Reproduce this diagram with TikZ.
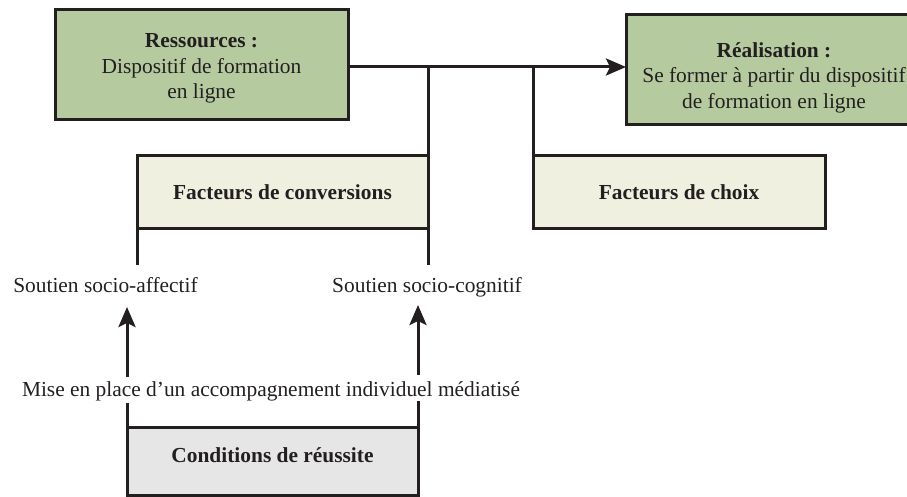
\documentclass[tikz,border=0pt]{standalone}
\usepackage{fontspec}
\setmainfont{Liberation Serif}
\usetikzlibrary{arrows.meta}

\definecolor{resgreen}{RGB}{181,203,159}
\definecolor{factcream}{RGB}{240,240,224}
\definecolor{condgray}{RGB}{230,230,230}
\definecolor{ink}{RGB}{35,31,32}

% vertical struts used to nudge text inside the boxes
\newcommand\topgap[1]{\rule{0pt}{#1}}
\newcommand\bottomgap[1]{\rule[-#1]{0pt}{#1}}

\begin{document}
\begin{tikzpicture}[x=1pt,y=-1pt,
  txt/.style={inner sep=0pt, text=ink, font=\fontsize{21.4}{25.5}\selectfont},
  box/.style={txt, draw=ink, line width=3pt, outer sep=0pt, align=center},
  greenbox/.style={box, fill=resgreen, minimum height=110pt},
  factbox/.style={box, fill=factcream, minimum height=72pt,
    font=\fontsize{21.4}{25.5}\selectfont\bfseries},
  condbox/.style={box, fill=condgray, minimum width=291pt, minimum height=68pt,
    font=\fontsize{21.4}{25.5}\selectfont\bfseries},
  conn/.style={draw=ink, line width=3pt},
  arr/.style={conn, -{Stealth[length=20pt,width=17pt,inset=4pt]}}
]
\useasboundingbox (0,0) rectangle (907,497);
\clip (0,0) rectangle (907,497);

% boxes
\node[greenbox, minimum width=293pt] (res) at (201.5,65)
  {\topgap{21.6pt}\textbf{Ressources :}\\Dispositif de formation\\en ligne};
\node[greenbox, minimum width=296pt] (real) at (774,70)
  {\topgap{29.8pt}\textbf{Réalisation :}\\Se former à partir du dispositif\\de formation en ligne};
\node[factbox, minimum width=291pt] (conv) at (282.5,192) {Facteurs de conversions};
\node[factbox, minimum width=292pt] (choix) at (679,192) {Facteurs de choix};
\node[condbox] (cond) at (272.5,461.5) {\bottomgap{12pt}Conditions de réussite};

% free labels (both sit on the same baseline)
\node[txt] (sa) at (105.5,284.7) {Soutien socio-affectif};
\node[txt] (sc) at (427,287) {Soutien socio-cognitif};
\node[txt] (mise) at (271,391) {Mise en place d’un accompagnement individuel médiatisé};

% junctions and free ends
\coordinate (j1) at (428,67);
\coordinate (j2) at (533,67);
\coordinate (cl) at (137,265);
\coordinate (cr) at (428,265);
\coordinate (dl) at (127,403);
\coordinate (dr) at (418,401);
\coordinate (upL) at (127,377);
\coordinate (tipL) at (127,307);
\coordinate (upR) at (418,375);
\coordinate (tipR) at (418,305);

% main line from resources to realisation
\draw[arr] (res.east |- j1) -- (real.west |- j1);
\draw[conn] (j1) -- (conv.north east);
\draw[conn] (j2) -- (choix.north west);

% legs under the conversion factors
\draw[conn] (conv.south west) -- (cl);
\draw[conn] (conv.south east) -- (cr);

% legs above the success conditions
\draw[conn] (cond.north west) -- (dl);
\draw[conn] (cond.north east) -- (dr);

% arrows up to the two kinds of support
\draw[arr] (upL) -- (tipL);
\draw[arr] (upR) -- (tipR);
\end{tikzpicture}
\end{document}
